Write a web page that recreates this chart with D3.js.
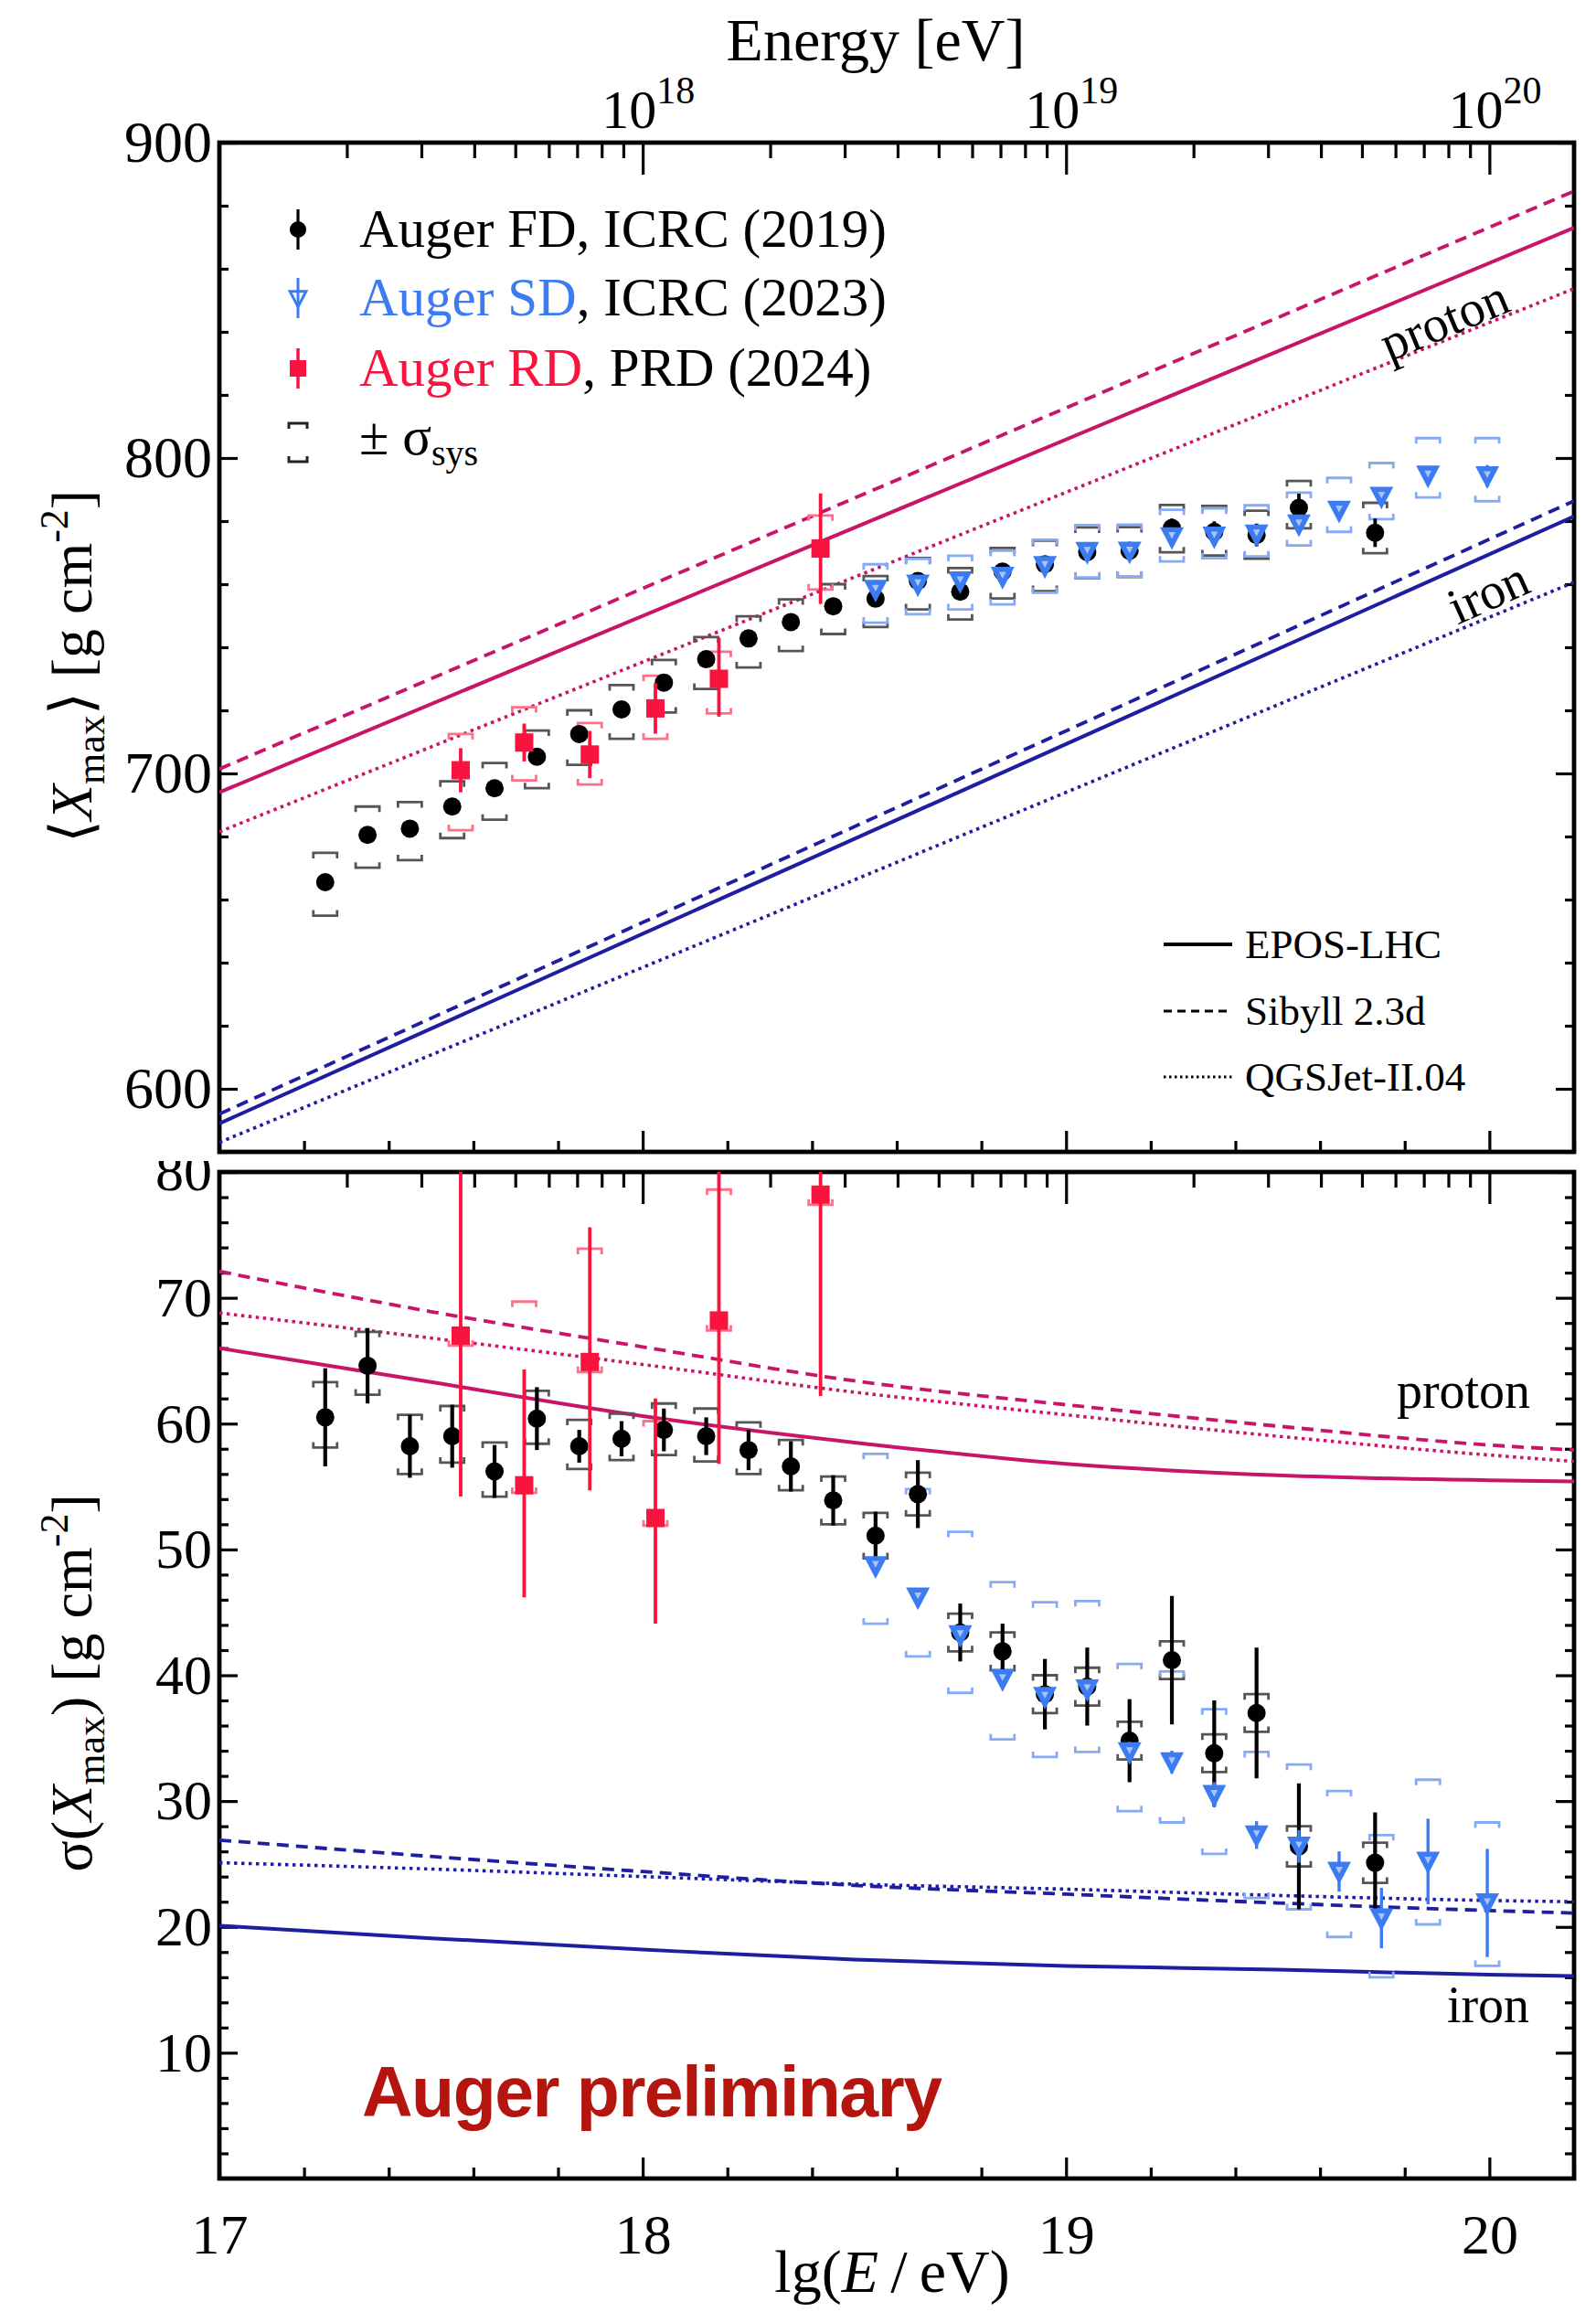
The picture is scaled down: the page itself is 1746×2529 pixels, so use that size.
<!DOCTYPE html>
<html><head><meta charset="utf-8">
<script src="https://cdn.jsdelivr.net/npm/d3@7"></script>
<style>
html,body{margin:0;padding:0;background:#fff;}
svg{display:block;}
</style></head><body>
<script>
// ---------- measurements: lg(E/eV) bins ----------
const lgFD = [17.25, 17.35, 17.45, 17.55, 17.65, 17.75, 17.85, 17.95, 18.05, 18.15, 18.25, 18.35, 18.45,
              18.55, 18.65, 18.75, 18.85, 18.95, 19.05, 19.15, 19.25, 19.35, 19.45, 19.55, 19.73];
const lgSD = [18.55, 18.65, 18.75, 18.85, 18.95, 19.05, 19.15, 19.25, 19.35, 19.45, 19.55, 19.645, 19.745, 19.855, 19.995];
const lgRD = [17.57, 17.72, 17.875, 18.03, 18.18, 18.42];

// <Xmax> [g cm^-2]
const xmaxFD      = [665.5, 680.5, 682.5, 689.5, 695.3, 705.3, 712.5, 720.3, 728.8, 736.2, 742.8, 748.0, 753.0,
                     755.4, 761.0, 757.6, 764.0, 766.3, 770.2, 770.6, 777.8, 776.6, 775.6, 784.2, 776.3];
const xmaxFDstat  = [1.0, 1.0, 1.0, 1.0, 1.0, 1.0, 1.0, 1.0, 1.0, 1.0, 1.0, 1.0, 1.2,
                     1.3, 1.5, 1.6, 1.8, 2.0, 2.2, 2.5, 3.0, 3.3, 3.6, 4.5, 4.5];
const xmaxFDsysUp = [9.3, 9.0, 8.4, 8.0, 8.0, 8.3, 7.5, 7.7, 7.2, 7.0, 7.0, 7.2, 7.0,
                     7.2, 7.3, 7.5, 7.5, 7.5, 7.8, 7.5, 7.3, 8.2, 7.7, 8.5, 9.5];
const xmaxFDsysLo = [10.6, 10.4, 10.0, 10.0, 10.0, 10.0, 9.8, 9.3, 9.5, 9.4, 9.2, 9.2, 8.8,
                     9.0, 9.0, 8.8, 8.5, 8.5, 8.3, 8.3, 7.7, 7.5, 7.5, 6.5, 6.5];

const xmaxSD      = [758.3, 760.0, 761.0, 762.4, 765.8, 770.3, 770.4, 775.0, 775.2, 775.8, 779.0, 783.4, 787.8, 794.5, 794.3];
const xmaxSDstat  = [0.8, 0.8, 0.8, 0.8, 0.8, 0.9, 1.0, 1.0, 1.1, 1.2, 1.4, 1.7, 2.2, 2.8, 3.5];
const xmaxSDsysUp = [8.0, 8.0, 8.0, 8.2, 8.3, 8.4, 8.5, 8.6, 8.8, 9.2, 10.0, 10.3, 10.6, 11.8, 12.0];
const xmaxSDsysLo = [10.5, 9.5, 9.0, 8.8, 8.5, 8.2, 8.0, 7.8, 7.0, 7.0, 6.7, 6.8, 7.2, 7.0, 8.0];

const xmaxRD      = [701.0, 709.8, 706.0, 720.6, 730.0, 771.3];
const xmaxRDstatUp = [7.0, 6.0, 7.5, 8.0, 13.0, 17.5];
const xmaxRDstatLo = [7.0, 6.0, 7.5, 8.0, 12.0, 17.6];
const xmaxRDsysUp = [11.5, 11.2, 10.0, 10.4, 8.6, 10.5];
const xmaxRDsysLo = [19.0, 12.0, 9.5, 9.6, 11.0, 13.0];

// sigma(Xmax) [g cm^-2]
const sigFD       = [60.5, 64.6, 58.2, 59.0, 56.2, 60.4, 58.2, 58.8, 59.5, 59.0, 57.9, 56.6, 53.9,
                     51.1, 54.4, 43.4, 41.9, 38.5, 39.1, 34.8, 41.2, 33.8, 37.0, 26.4, 25.1];
const sigFDstat   = [3.9, 3.0, 2.5, 2.5, 2.1, 2.5, 1.3, 1.4, 1.7, 1.5, 1.6, 2.0, 2.0,
                     1.9, 2.7, 2.3, 2.2, 2.8, 3.1, 3.3, 5.1, 4.2, 5.2, 5.0, 4.0];
const sigFDsysUp  = [2.8, 2.7, 2.5, 2.4, 2.3, 2.2, 2.1, 2.0, 2.1, 2.2, 2.2, 2.1, 1.9,
                     1.8, 1.7, 1.5, 1.5, 1.5, 1.5, 1.5, 1.5, 1.5, 1.5, 1.6, 1.6];
const sigFDsysLo  = [2.4, 2.3, 2.2, 2.1, 2.0, 2.0, 1.8, 1.7, 2.0, 2.0, 1.9, 1.9, 1.9,
                     1.8, 1.7, 1.5, 1.5, 1.5, 1.5, 1.5, 1.5, 1.5, 1.5, 1.6, 1.6];

const sigSD       = [48.7, 46.2, 43.2, 39.7, 38.3, 38.9, 33.9, 33.1, 30.5, 27.3, 26.4, 24.4, 20.7, 25.2, 21.9];
const sigSDstat   = [0.6, 0.6, 0.7, 0.7, 0.7, 0.8, 0.8, 0.9, 1.0, 1.1, 1.3, 1.6, 2.4, 3.4, 4.3];
const sigSDsysUp  = [8.9, 8.6, 8.2, 7.7, 7.5, 7.0, 7.0, 7.2, 6.8, 6.6, 6.5, 6.4, 6.6, 6.5, 6.4];
const sigSDsysLo  = [4.6, 4.7, 4.6, 4.8, 4.8, 5.0, 4.7, 4.8, 4.7, 5.0, 5.0, 5.2, 4.7, 5.0, 5.0];

const sigRD       = [67.0, 55.1, 64.9, 52.5, 68.2, 78.2];
const sigRDstatUp = [14.0, 9.2, 10.7, 9.5, 13.0, 12.0];
const sigRDstatLo = [12.8, 8.9, 10.2, 8.4, 11.4, 16.0];
const sigRDsysUp  = [14.0, 14.6, 9.0, 7.7, 10.4, 10.0];
const sigRDsysLo  = [0.8, 0.6, 0.8, 0.6, 0.8, 0.8];

// ---------- air-shower simulations ----------
const lgLine = [17, 20.2];
const xmaxP_EPOS = [694.0, 873.0];
const xmaxP_SIB  = [701.4, 884.6];
const xmaxP_QGS  = [681.5, 853.7];
const xmaxFe_EPOS = [589.0, 781.5];
const xmaxFe_SIB  = [592.0, 786.4];
const xmaxFe_QGS  = [583.0, 760.6];

const lgCurve = [17, 17.5, 18, 18.5, 19, 19.5, 20, 20.2];
const sigP_EPOS  = [66.0, 63.3, 60.6, 58.5, 56.8, 55.9, 55.5, 55.4];
const sigP_SIB   = [72.1, 68.9, 66.1, 63.4, 61.5, 59.8, 58.3, 57.9];
const sigP_QGS   = [68.8, 66.8, 64.7, 62.5, 60.7, 59.0, 57.5, 57.0];
const sigFe_EPOS = [20.1, 19.1, 18.2, 17.4, 16.9, 16.6, 16.2, 16.1];
const sigFe_SIB  = [26.9, 25.6, 24.4, 23.3, 22.6, 21.9, 21.3, 21.1];
const sigFe_QGS  = [25.1, 24.6, 24.0, 23.4, 23.0, 22.5, 22.1, 22.0];

// ---------- ticks & labels ----------
const xMajorTicks = [17, 18, 19, 20];
const xTickLabels = ["17", "18", "19", "20"];
const xMinorTicks = [17.2, 17.4, 17.6, 17.8, 18.2, 18.4, 18.6, 18.8, 19.2, 19.4, 19.6, 19.8, 20.2];
const eMajorTicks = [1e18, 1e19, 1e20];
const eTickExps = ["18", "19", "20"];
const eMinorTicks = [2e17,3e17,4e17,5e17,6e17,7e17,8e17,9e17, 2e18,3e18,4e18,5e18,6e18,7e18,8e18,9e18,
                     2e19,3e19,4e19,5e19,6e19,7e19,8e19,9e19];
const yTopMajor = [600, 700, 800, 900];
const yTopMinor = [580, 620, 640, 660, 680, 720, 740, 760, 780, 820, 840, 860, 880];
const yBotMajor = [10, 20, 30, 40, 50, 60, 70, 80];
const yBotMinor = [2,4,6,8,12,14,16,18,22,24,26,28,32,34,36,38,42,44,46,48,52,54,56,58,62,64,66,68,72,74,76,78];

const modelNames = ["EPOS-LHC", "Sibyll 2.3d", "QGSJet-II.04"];

// ---------- styling ----------
const SERIF = "'Liberation Serif','Times New Roman',Times,serif";
const SANS = "'Liberation Sans',Arial,Helvetica,sans-serif";
const C_P = "#c8156a", C_FE = "#1e1ea0";
const C_SD = "#3b7cf2", C_SDsys = "#86aaf4";
const C_RD = "#f8143f", C_RDsys = "#ff6f86";
const C_FDsys = "#555";
const dashes = [null, "13,8", "3.5,4.5"];

const W = 1746, H = 2529;
const L = 240, R = 1722, T1 = 156, B1 = 1260, T2 = 1282, B2 = 2383;

const svg = d3.select("body").append("svg").attr("width", W).attr("height", H)
  .style("font-family", SERIF);

const x = d3.scaleLinear().domain([17, 20.2]).range([L, R]);
const xE = d3.scaleLog().domain([1e17, Math.pow(10, 20.2)]).range([L, R]);
const yTop = d3.scaleLinear().domain([580, 900]).range([B1, T1]);
const yBot = d3.scaleLinear().domain([0, 80]).range([B2, T2]);

const defs = svg.append("defs");
defs.append("clipPath").attr("id", "clipTop").append("rect")
  .attr("x", L).attr("y", T1).attr("width", R - L).attr("height", B1 - T1);
defs.append("clipPath").attr("id", "clipBot").append("rect")
  .attr("x", L).attr("y", T2).attr("width", R - L).attr("height", B2 - T2);
defs.append("clipPath").attr("id", "clipBotLabels").append("rect")
  .attr("x", -L).attr("y", 1270).attr("width", L + 40).attr("height", H);

// ---------- axes ----------
function styleAxis(g, fs) {
  g.select("path.domain").remove();
  g.selectAll("line").attr("stroke", "#000").attr("stroke-width", 3.2);
  g.attr("font-family", SERIF).attr("font-size", fs || 62);
  g.selectAll("text").attr("fill", "#000");
}
function addAxis(axis, tx, ty, fs) {
  const g = svg.append("g").attr("transform", `translate(${tx},${ty})`).call(axis);
  styleAxis(g, fs);
  return g;
}

// upper panel: energy axis on top
addAxis(d3.axisTop(xE).tickValues(eMajorTicks).tickSize(-35).tickFormat(""), 0, T1);
addAxis(d3.axisTop(xE).tickValues(eMinorTicks).tickSize(-17).tickFormat(""), 0, T1);
// upper panel: lg(E) ticks on its lower edge
addAxis(d3.axisBottom(x).tickValues(xMajorTicks).tickSize(-23).tickFormat(""), 0, B1);
addAxis(d3.axisBottom(x).tickValues(xMinorTicks).tickSize(-12).tickFormat(""), 0, B1);
// upper panel: y axes
addAxis(d3.axisLeft(yTop).tickValues(yTopMajor).tickSize(-20).tickPadding(8).tickFormat(d3.format("d")), L, 0, 64);
addAxis(d3.axisLeft(yTop).tickValues(yTopMinor).tickSize(-10).tickFormat(""), L, 0);
addAxis(d3.axisRight(yTop).tickValues(yTopMajor).tickSize(-20).tickFormat(""), R, 0);
addAxis(d3.axisRight(yTop).tickValues(yTopMinor).tickSize(-10).tickFormat(""), R, 0);

// lower panel: energy ticks on its upper edge
addAxis(d3.axisTop(xE).tickValues(eMajorTicks).tickSize(-35).tickFormat(""), 0, T2);
addAxis(d3.axisTop(xE).tickValues(eMinorTicks).tickSize(-17).tickFormat(""), 0, T2);
// lower panel: lg(E) axis
addAxis(d3.axisBottom(x).tickValues(xMajorTicks).tickSize(-23).tickPadding(38)
  .tickFormat((d, i) => xTickLabels[i]), 0, B2, 62);
addAxis(d3.axisBottom(x).tickValues(xMinorTicks).tickSize(-12).tickFormat(""), 0, B2);
// lower panel: y axes (the "80" label is cut where it meets the upper panel)
const gyb = addAxis(d3.axisLeft(yBot).tickValues(yBotMajor).tickSize(-20).tickPadding(8).tickFormat(d3.format("d")), L, 0, 62);
gyb.attr("clip-path", "url(#clipBotLabels)");
addAxis(d3.axisLeft(yBot).tickValues(yBotMinor).tickSize(-10).tickFormat(""), L, 0);
addAxis(d3.axisRight(yBot).tickValues(yBotMajor).tickSize(-20).tickFormat(""), R, 0);
addAxis(d3.axisRight(yBot).tickValues(yBotMinor).tickSize(-10).tickFormat(""), R, 0);

// energy tick labels 10^n
const eLab = svg.append("g").attr("font-size", 60).attr("text-anchor", "middle");
eMajorTicks.forEach((v, i) => {
  const t = eLab.append("text").attr("x", xE(v) + 6).attr("y", T1 - 16);
  t.append("tspan").text("10");
  t.append("tspan").attr("font-size", 42).attr("dy", -27).text(eTickExps[i]);
});

// frames
[[T1, B1], [T2, B2]].forEach(([t, b]) => {
  svg.append("rect").attr("x", L).attr("y", t).attr("width", R - L).attr("height", b - t)
    .attr("fill", "none").attr("stroke", "#000").attr("stroke-width", 4.8);
});

// ---------- axis titles ----------
svg.append("text").attr("x", 958).attr("y", 66).attr("text-anchor", "middle")
  .attr("font-size", 66).text("Energy [eV]");

const xt = svg.append("text").attr("x", 976).attr("y", 2507).attr("text-anchor", "middle").attr("font-size", 66);
xt.append("tspan").text("lg(");
xt.append("tspan").attr("font-style", "italic").text("E");
xt.append("tspan").text("\u2009/\u2009eV)");

function yTitle(cx, cy, prefix, suffixAfterSub) {
  const t = svg.append("text").attr("transform", `translate(${cx},${cy}) rotate(-90)`)
    .attr("text-anchor", "middle").attr("font-size", 64);
  t.append("tspan").text(prefix);
  t.append("tspan").attr("font-style", "italic").text("X");
  t.append("tspan").attr("font-size", 44).attr("dy", 14).text("max");
  t.append("tspan").attr("dy", -14).text(suffixAfterSub);
  t.append("tspan").attr("font-size", 44).attr("dy", -26).text("-2");
  t.append("tspan").attr("dy", 26).text("]");
}
yTitle(100, 729, "\u27E8", "\u27E9 [g cm");
yTitle(100, 1841, "\u03C3(", ") [g cm");

// ---------- model lines ----------
const lineTop = d3.line().x((d) => x(d[0])).y((d) => yTop(d[1]));
const lineBot = d3.line().x((d) => x(d[0])).y((d) => yBot(d[1])).curve(d3.curveMonotoneX);
const lineW = [4, 3.8, 3.6];

const gTopModels = svg.append("g").attr("clip-path", "url(#clipTop)");
[[xmaxP_EPOS, C_P, 0], [xmaxP_SIB, C_P, 1], [xmaxP_QGS, C_P, 2],
 [xmaxFe_EPOS, C_FE, 0], [xmaxFe_SIB, C_FE, 1], [xmaxFe_QGS, C_FE, 2]].forEach(([vals, col, s]) => {
  gTopModels.append("path").datum(lgLine.map((l, i) => [l, vals[i]]))
    .attr("d", lineTop).attr("fill", "none").attr("stroke", col)
    .attr("stroke-width", lineW[s]).attr("stroke-dasharray", dashes[s]);
});

const gBotModels = svg.append("g").attr("clip-path", "url(#clipBot)");
[[sigP_EPOS, C_P, 0], [sigP_SIB, C_P, 1], [sigP_QGS, C_P, 2],
 [sigFe_EPOS, C_FE, 0], [sigFe_SIB, C_FE, 1], [sigFe_QGS, C_FE, 2]].forEach(([vals, col, s]) => {
  gBotModels.append("path").datum(lgCurve.map((l, i) => [l, vals[i]]))
    .attr("d", lineBot).attr("fill", "none").attr("stroke", col)
    .attr("stroke-width", lineW[s]).attr("stroke-dasharray", dashes[s]);
});

// model labels
function slopeAngle(vals, yS) {
  return Math.atan2(yS(vals[1]) - yS(vals[0]), x(lgLine[1]) - x(lgLine[0])) * 180 / Math.PI;
}
svg.append("text").attr("transform", `translate(1580,350) rotate(${slopeAngle(xmaxP_EPOS, yTop)})`)
  .attr("text-anchor", "middle").attr("dominant-baseline", "central").attr("font-size", 56).text("proton");
svg.append("text").attr("transform", `translate(1628,648) rotate(${slopeAngle(xmaxFe_EPOS, yTop)})`)
  .attr("text-anchor", "middle").attr("dominant-baseline", "central").attr("font-size", 56).text("iron");
svg.append("text").attr("x", 1601).attr("y", 1540).attr("text-anchor", "middle").attr("font-size", 56).text("proton");
svg.append("text").attr("x", 1628).attr("y", 2212).attr("text-anchor", "middle").attr("font-size", 56).text("iron");

// ---------- data drawing ----------
const BW = 13, BL = 6;
function brackets(g, xs, vals, up, lo, yS, col, sw) {
  xs.forEach((l, i) => {
    const cx = x(l), yu = yS(vals[i] + up[i]), yl = yS(vals[i] - lo[i]);
    g.append("path").attr("d", `M${cx - BW},${yu + BL}V${yu}H${cx + BW}V${yu + BL}`)
      .attr("fill", "none").attr("stroke", col).attr("stroke-width", sw);
    g.append("path").attr("d", `M${cx - BW},${yl - BL}V${yl}H${cx + BW}V${yl - BL}`)
      .attr("fill", "none").attr("stroke", col).attr("stroke-width", sw);
  });
}
function errBars(g, xs, vals, up, lo, yS, col, sw) {
  xs.forEach((l, i) => {
    g.append("line").attr("x1", x(l)).attr("x2", x(l))
      .attr("y1", yS(vals[i] + up[i])).attr("y2", yS(vals[i] - lo[i]))
      .attr("stroke", col).attr("stroke-width", sw);
  });
}
function triPath(cx, cy, s) {
  return `M${cx - 11 * s},${cy - 9 * s}L${cx + 11 * s},${cy - 9 * s}L${cx},${cy + 12 * s}Z`;
}
function fdMarks(g, xs, vals, yS) {
  g.selectAll(null).data(xs).enter().append("circle")
    .attr("cx", (d) => x(d)).attr("cy", (d, i) => yS(vals[i])).attr("r", 10).attr("fill", "#000");
}
function sdMarks(g, xs, vals, yS) {
  xs.forEach((l, i) => {
    const cx = x(l), cy = yS(vals[i]);
    g.append("path").attr("d", triPath(cx, cy, 1.18)).attr("fill", C_SD);
    g.append("path").attr("d", triPath(cx, cy - 2, 0.35)).attr("fill", "#a9c3f8");
  });
}
function rdMarks(g, xs, vals, yS) {
  g.selectAll(null).data(xs).enter().append("rect")
    .attr("x", (d) => x(d) - 10).attr("y", (d, i) => yS(vals[i]) - 10)
    .attr("width", 20).attr("height", 20).attr("fill", C_RD);
}

// upper panel
const gT = svg.append("g").attr("clip-path", "url(#clipTop)");
brackets(gT, lgFD, xmaxFD, xmaxFDsysUp, xmaxFDsysLo, yTop, C_FDsys, 2.8);
brackets(gT, lgSD, xmaxSD, xmaxSDsysUp, xmaxSDsysLo, yTop, C_SDsys, 2.8);
brackets(gT, lgRD, xmaxRD, xmaxRDsysUp, xmaxRDsysLo, yTop, C_RDsys, 2.8);
errBars(gT, lgFD, xmaxFD, xmaxFDstat, xmaxFDstat, yTop, "#000", 3.8);
fdMarks(gT, lgFD, xmaxFD, yTop);
errBars(gT, lgSD, xmaxSD, xmaxSDstat, xmaxSDstat, yTop, C_SD, 3.2);
sdMarks(gT, lgSD, xmaxSD, yTop);
errBars(gT, lgRD, xmaxRD, xmaxRDstatUp, xmaxRDstatLo, yTop, C_RD, 3.8);
rdMarks(gT, lgRD, xmaxRD, yTop);

// lower panel
const gB = svg.append("g").attr("clip-path", "url(#clipBot)");
brackets(gB, lgFD, sigFD, sigFDsysUp, sigFDsysLo, yBot, C_FDsys, 2.8);
brackets(gB, lgSD, sigSD, sigSDsysUp, sigSDsysLo, yBot, C_SDsys, 2.8);
brackets(gB, lgRD, sigRD, sigRDsysUp, sigRDsysLo, yBot, C_RDsys, 2.8);
errBars(gB, lgFD, sigFD, sigFDstat, sigFDstat, yBot, "#000", 4.2);
fdMarks(gB, lgFD, sigFD, yBot);
errBars(gB, lgSD, sigSD, sigSDstat, sigSDstat, yBot, C_SD, 3.4);
sdMarks(gB, lgSD, sigSD, yBot);
errBars(gB, lgRD, sigRD, sigRDstatUp, sigRDstatLo, yBot, C_RD, 3.8);
rdMarks(gB, lgRD, sigRD, yBot);

// ---------- legends ----------
const leg = svg.append("g");
const mx = 326, tx = 393, rows = [251, 326, 403];
// FD
leg.append("line").attr("x1", mx).attr("x2", mx).attr("y1", rows[0] - 22).attr("y2", rows[0] + 22)
  .attr("stroke", "#000").attr("stroke-width", 3.2);
leg.append("circle").attr("cx", mx).attr("cy", rows[0]).attr("r", 9).attr("fill", "#000");
// SD
leg.append("path").attr("d", triPath(mx, rows[1], 0.8)).attr("fill", "#fff").attr("stroke", C_SD).attr("stroke-width", 3);
leg.append("line").attr("x1", mx).attr("x2", mx).attr("y1", rows[1] - 22).attr("y2", rows[1] + 22)
  .attr("stroke", C_SD).attr("stroke-width", 3);
// RD
leg.append("line").attr("x1", mx).attr("x2", mx).attr("y1", rows[2] - 22).attr("y2", rows[2] + 22)
  .attr("stroke", C_RD).attr("stroke-width", 3.5);
leg.append("rect").attr("x", mx - 9).attr("y", rows[2] - 9).attr("width", 18).attr("height", 18).attr("fill", C_RD);
// systematics symbol
leg.append("path").attr("d", `M${mx - 10},${469}V${463}H${mx + 10}V${469}`).attr("fill", "none").attr("stroke", "#222").attr("stroke-width", 3);
leg.append("path").attr("d", `M${mx - 10},${499}V${505}H${mx + 10}V${499}`).attr("fill", "none").attr("stroke", "#222").attr("stroke-width", 3);

const legFs = 59;
const t1 = leg.append("text").attr("x", tx).attr("y", rows[0] + 19).attr("font-size", legFs);
t1.append("tspan").text("Auger FD, ICRC (2019)");
const t2 = leg.append("text").attr("x", tx).attr("y", rows[1] + 19).attr("font-size", legFs);
t2.append("tspan").attr("fill", C_SD).text("Auger SD");
t2.append("tspan").text(", ICRC (2023)");
const t3 = leg.append("text").attr("x", tx).attr("y", rows[2] + 19).attr("font-size", legFs);
t3.append("tspan").attr("fill", C_RD).text("Auger RD");
t3.append("tspan").text(", PRD (2024)");
const t4 = leg.append("text").attr("x", tx).attr("y", 497).attr("font-size", legFs);
t4.append("tspan").text("\u00B1 \u03C3");
t4.append("tspan").attr("font-size", 40).attr("dy", 12).text("sys");

// model legend
const mRows = [1033, 1106, 1178];
modelNames.forEach((name, i) => {
  leg.append("line").attr("x1", 1273).attr("x2", 1348).attr("y1", mRows[i]).attr("y2", mRows[i])
    .attr("stroke", "#000").attr("stroke-width", i === 0 ? 3.8 : 2.8)
    .attr("stroke-dasharray", i === 1 ? "9,6" : i === 2 ? "2.5,3.5" : null);
  leg.append("text").attr("x", 1362).attr("y", mRows[i] + 15).attr("font-size", 45).text(name);
});

// preliminary tag
svg.append("text").attr("x", 396).attr("y", 2315).attr("font-family", SANS).attr("font-weight", "bold")
  .attr("font-size", 77).attr("letter-spacing", -1.5).attr("fill", "#b5150f").text("Auger preliminary");
</script>
</body></html>
